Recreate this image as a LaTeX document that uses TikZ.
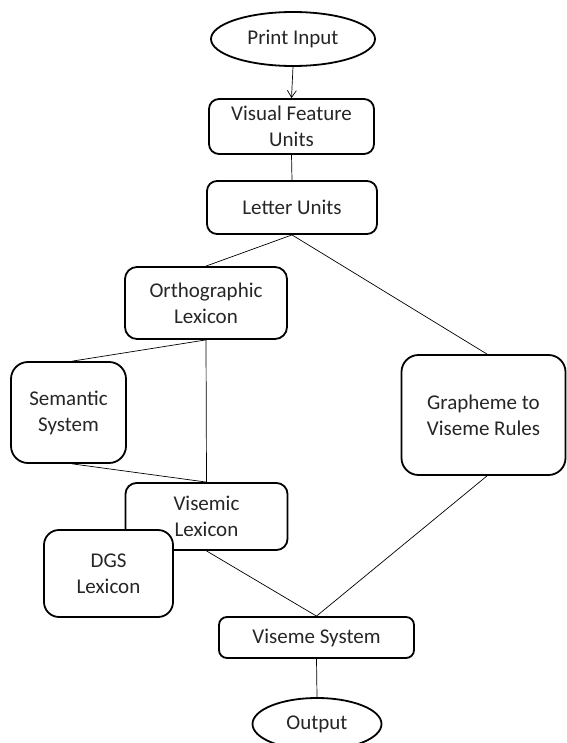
\documentclass[tikz,border=0pt]{standalone}
\usepackage{fontspec}
\setmainfont{Carlito}
\usetikzlibrary{shapes.geometric,arrows.meta}
\begin{document}
\begin{tikzpicture}[x=1pt,y=-1pt,
  txt/.style={font=\fontsize{21}{26}\selectfont, align=center, inner sep=0pt, text=black!85},
  box/.style={txt, draw, line width=1.8pt, fill=white, rounded corners=10pt},
  bigbox/.style={box, rounded corners=17pt},
  oval/.style={txt, draw, ellipse, line width=1.8pt, fill=white},
  conn/.style={line width=0.7pt}]
\useasboundingbox (0,0) rectangle (566,743);
% nodes
\node[oval, minimum width=164pt, minimum height=54pt] (pi) at (293,39) {Print Input};
\node[box, minimum width=165pt, minimum height=55pt] (vf) at (291.5,126.5) {Visual Feature\\Units};
\node[box, minimum width=170pt, minimum height=53pt] (lu) at (292,207.5) {Letter Units};
\node[box, rounded corners=12pt, minimum width=162pt, minimum height=72pt] (ol) at (206,303) {Orthographic\\Lexicon};
\node[bigbox, minimum width=115pt, minimum height=101pt] (ss) at (68.5,412.5) {Semantic\\System};
\node[bigbox, minimum width=164pt, minimum height=120pt] (gv) at (483.5,415) {Grapheme to\\Viseme Rules};
\node[box, rounded corners=11pt, minimum width=162pt, minimum height=67pt] (vl) at (206.5,516.5) {Visemic\\Lexicon};
\node[box, rounded corners=15pt, minimum width=129pt, minimum height=87pt] (dg) at (108.5,573.5) {DGS\\Lexicon};
\node[box, rounded corners=8pt, minimum width=195pt, minimum height=41pt] (vs) at (316.5,637.5) {Viseme System};
\node[oval, minimum width=129pt, minimum height=52pt] (out) at (317,724) {Output};
% connectors
\draw[conn, -{Straight Barb[length=7pt,width=9pt]}] (pi.south) -- (vf.north);
\draw[conn] (vf.south) -- (lu.north);
\draw[conn] (lu.south) -- (ol.north);
\draw[conn] (lu.south) -- ([xshift=3.5pt]gv.north);
\draw[conn] (ol.south) -- ([xshift=4pt]ss.north);
\draw[conn] (ol.south) -- (vl.north);
\draw[conn] ([xshift=4pt]ss.south) -- (vl.north);
\draw[conn] (vl.south) -- (vs.north);
\draw[conn] ([xshift=3.5pt]gv.south) -- (vs.north);
\draw[conn] (vs.south) -- (out.north);
\end{tikzpicture}
\end{document}
